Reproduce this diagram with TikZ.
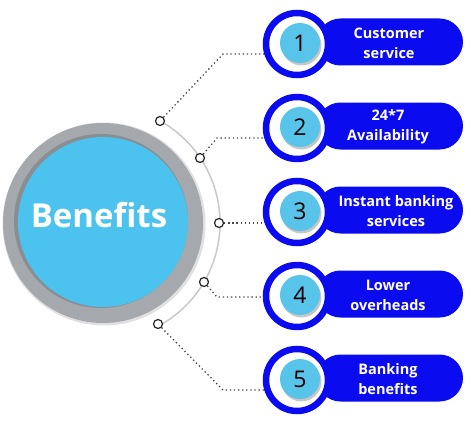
\documentclass[tikz,border=0pt]{standalone}
\usepackage{fontspec}
\setmainfont{Open Sans}
\definecolor{pillblue}{HTML}{0B0BF0}
\definecolor{numblue}{HTML}{58C4EA}
\definecolor{bigblue}{HTML}{4CC2EE}
\definecolor{ringgrey}{HTML}{A5A9AD}
\definecolor{ringdark}{HTML}{8A8E92}
\definecolor{arcgrey}{HTML}{C9C9C9}
\definecolor{dotgrey}{HTML}{454545}
\tikzset{
  knob/.style={circle, draw=black!85, line width=1.2pt, fill=white, minimum size=9pt, inner sep=0pt},
  dotline/.style={draw=dotgrey, line width=1.3pt, dash pattern=on 1.3pt off 2.8pt},
  badgering/.style={circle, draw=pillblue, line width=6.5pt, fill=white, minimum size=62pt, inner sep=0pt},
  numdisc/.style={circle, fill=numblue, minimum size=40pt, inner sep=0pt},
  numtext/.style={font=\fontsize{23}{23}\selectfont, text=black, inner sep=0pt},
  labeltext/.style={font=\bfseries\fontsize{14.5}{20}\selectfont, text=white, align=center, inner sep=0pt},
}
\begin{document}
\begin{tikzpicture}[x=1pt,y=-1pt]
\useasboundingbox (0,0) rectangle (474,428);
% big circle
\fill[black!12] (104,224) circle (101.5);
\fill[ringgrey] (103,223) circle (100);
\fill[ringdark] (101,221) circle (87);
\node[circle, fill=bigblue, minimum size=170pt, inner sep=0pt] (big) at (103,222) {};
\node[font=\bfseries\fontsize{33}{33}\selectfont, text=white, anchor=base, inner sep=0pt] (bt) at (99,227) {Benefits};
% arc
\draw[arcgrey, line width=1.5pt] (103,223) ++(-61:117) arc[start angle=-61, end angle=61, radius=117];
% knobs and dotted connectors
\coordinate (c1) at (223,54);  \coordinate (e1) at (297,54);
\coordinate (c2) at (217,138); \coordinate (e2) at (297,138);
\coordinate (e3) at (297,223);
\coordinate (c4) at (217,297); \coordinate (e4) at (297,297);
\coordinate (c5) at (223,390); \coordinate (e5) at (297,390);
\node[knob] (k1) at (160,121) {};
\node[knob] (k2) at (200,158) {};
\node[knob] (k3) at (219,223) {};
\node[knob] (k4) at (204,282) {};
\node[knob] (k5) at (158,324) {};
\draw[dotline] (k1) -- (c1) -- (e1);
\draw[dotline] (k2) -- (c2) -- (e2);
\draw[dotline] (k3) -- (e3);
\draw[dotline] (k4) -- (c4) -- (e4);
\draw[dotline] (k5) -- (c5) -- (e5);
% badges
\foreach \y/\n/\t/\tx in {44/1/{Customer\\service}/389, 128/2/{24*7\\Availability}/388, 212/3/{Instant banking\\services}/396, 296/4/{Lower\\overheads}/388, 380/5/{Banking\\benefits}/388}{
  \fill[pillblue, rounded corners=23.5pt] (317,\y-25.5) rectangle (463,\y+21.5);
  \node[badgering] (b\n) at (297,\y) {};
  \fill[black!22] (301.5,\y+1.5) circle (20);
  \node[numdisc] (n\n) at (300,\y-1) {};
  \node[numtext, anchor=base] at (300,\y+7.5) {\n};
  \node[labeltext] (t\n) at (\tx,\y-1) {\t};
}
\end{tikzpicture}
\end{document}
